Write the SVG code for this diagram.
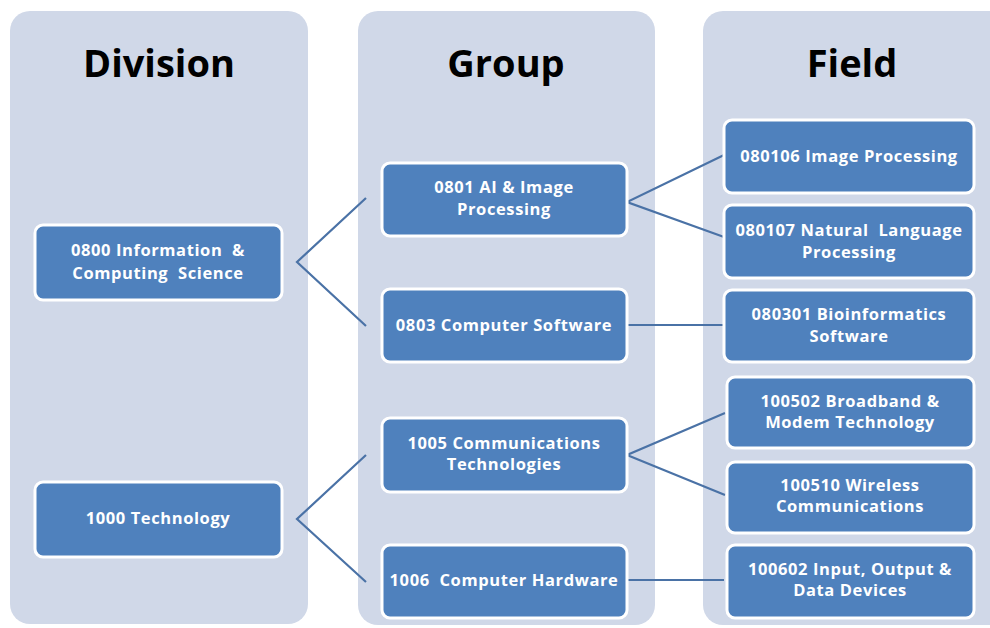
<svg xmlns="http://www.w3.org/2000/svg" width="990" height="628" viewBox="0 0 990 628">
<style>
.panel{fill:#D0D8E8}
.hdr{font-family:"Open Sans","Liberation Sans",Arial,sans-serif;font-weight:bold;font-size:38px;fill:#000;text-anchor:middle}
.box{fill:#4F81BD;stroke:#FFFFFF;stroke-width:3}
.lbl{font-family:"Open Sans","Liberation Sans",Arial,sans-serif;font-weight:bold;font-size:16.5px;letter-spacing:0.6px;fill:#FFFFFF;text-anchor:middle;white-space:pre}
.con{fill:none;stroke:#4A72A6;stroke-width:2.2}
</style>
<rect width="990" height="628" fill="#FFFFFF"/>
<g id="panels">
<rect class="panel" x="10" y="11" width="298" height="613" rx="20"/>
<rect class="panel" x="358" y="11" width="297" height="614" rx="20"/>
<rect class="panel" x="703" y="11" width="310" height="614" rx="20"/>
<text class="hdr" x="159" y="77">Division</text>
<text class="hdr" x="506" y="77">Group</text>
<text class="hdr" x="852" y="77">Field</text>
</g>
<g id="connectors">
<polyline class="con" points="366,198 297,262 366,326"/>
<polyline class="con" points="366,455 297,519 366,582"/>
<polyline class="con" points="724,155 627,202 724,237"/>
<line class="con" x1="627" y1="325" x2="724" y2="325"/>
<polyline class="con" points="725,413 627,455 725,495"/>
<line class="con" x1="627" y1="580" x2="724" y2="580"/>
</g>
<g id="n0800">
<rect class="box" x="35" y="225" width="247" height="75" rx="8"/>
<text class="lbl" x="158" y="256">0800 Information  &amp;</text>
<text class="lbl" x="158" y="279">Computing  Science</text>
</g>
<g id="n1000">
<rect class="box" x="35" y="482" width="247" height="75" rx="8"/>
<text class="lbl" x="158" y="524">1000 Technology</text>
</g>
<g id="n0801">
<rect class="box" x="382" y="163" width="245" height="73" rx="8"/>
<text class="lbl" x="504" y="193">0801 AI &amp; Image</text>
<text class="lbl" x="504" y="215">Processing</text>
</g>
<g id="n0803">
<rect class="box" x="382" y="289" width="245" height="73" rx="8"/>
<text class="lbl" x="504" y="331">0803 Computer Software</text>
</g>
<g id="n1005">
<rect class="box" x="382" y="418" width="245" height="74" rx="8"/>
<text class="lbl" x="504" y="449">1005 Communications</text>
<text class="lbl" x="504" y="470">Technologies</text>
</g>
<g id="n1006">
<rect class="box" x="382" y="545" width="245" height="73" rx="8"/>
<text class="lbl" x="504" y="586">1006  Computer Hardware</text>
</g>
<g id="n080106">
<rect class="box" x="724" y="120" width="250" height="73" rx="8"/>
<text class="lbl" x="849" y="162">080106 Image Processing</text>
</g>
<g id="n080107">
<rect class="box" x="724" y="205" width="250" height="73" rx="8"/>
<text class="lbl" x="849" y="236">080107 Natural  Language</text>
<text class="lbl" x="849" y="258">Processing</text>
</g>
<g id="n080301">
<rect class="box" x="724" y="290" width="250" height="72" rx="8"/>
<text class="lbl" x="849" y="320">080301 Bioinformatics</text>
<text class="lbl" x="849" y="342">Software</text>
</g>
<g id="n100502">
<rect class="box" x="727" y="377" width="247" height="71" rx="8"/>
<text class="lbl" x="850" y="407">100502 Broadband &amp;</text>
<text class="lbl" x="850" y="428">Modem Technology</text>
</g>
<g id="n100510">
<rect class="box" x="727" y="462" width="247" height="71" rx="8"/>
<text class="lbl" x="850" y="491">100510 Wireless</text>
<text class="lbl" x="850" y="512">Communications</text>
</g>
<g id="n100602">
<rect class="box" x="727" y="545" width="247" height="73" rx="8"/>
<text class="lbl" x="850" y="575">100602 Input, Output &amp;</text>
<text class="lbl" x="850" y="596">Data Devices</text>
</g>
</svg>
